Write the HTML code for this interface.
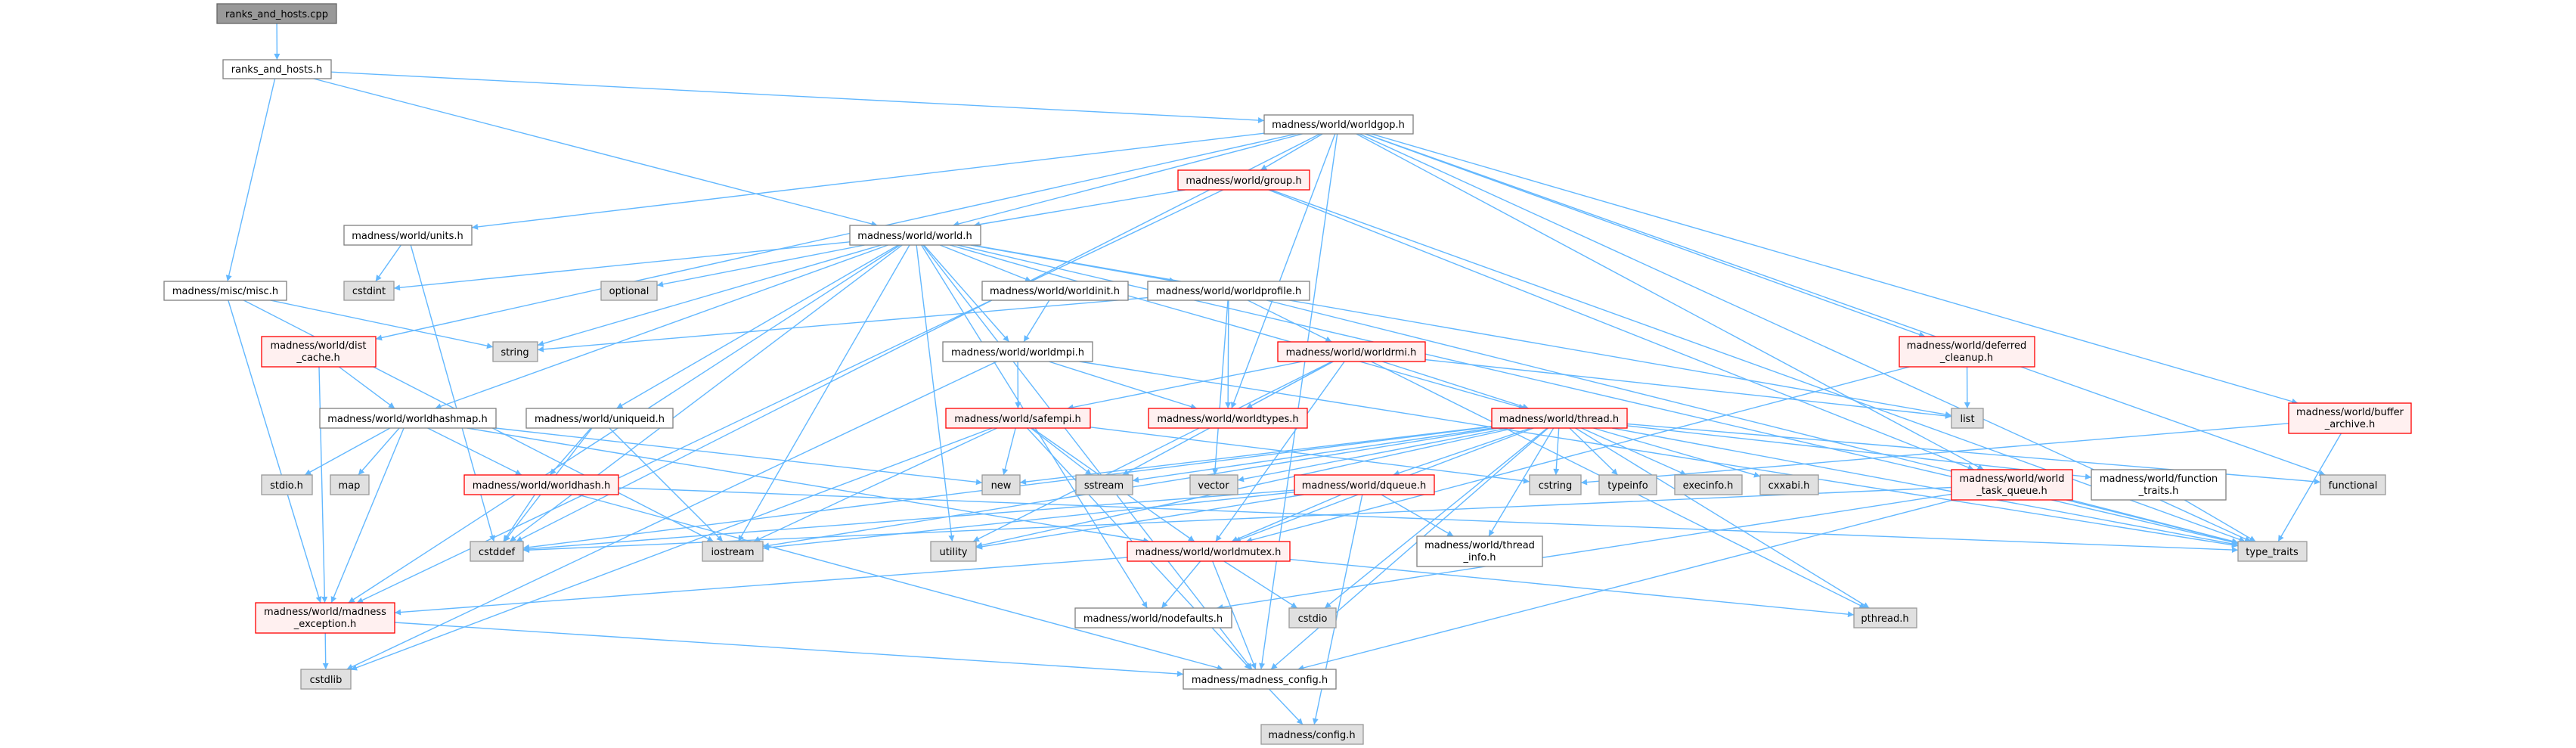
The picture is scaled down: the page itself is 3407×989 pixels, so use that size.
<!DOCTYPE html>
<html><head><meta charset="utf-8">
<style>
html,body{margin:0;padding:0;background:#fff;}
svg{display:block;}
text{font-family:"DejaVu Sans","Liberation Sans",sans-serif;font-size:13px;fill:#000;}
</style></head>
<body>
<svg id="g" xmlns="http://www.w3.org/2000/svg" width="3407" height="989" viewBox="0 0 3407 989">
<defs>
<marker id="ah" viewBox="0 0 10 10" refX="10" refY="5" markerWidth="10" markerHeight="8" markerUnits="userSpaceOnUse" orient="auto">
<path d="M0,0 L10,5 L0,10 z" fill="#63b8ff"/>
</marker>
</defs>
<g id="edges" fill="none" stroke="#63b8ff" stroke-width="1.4"></g>
<g id="nodes">
<rect x="287" y="5" width="158" height="26" fill="#999999" stroke="#666666" stroke-width="1.3"/><text x="366" y="23" text-anchor="middle">ranks_and_hosts.cpp</text>
<rect x="295" y="79" width="143" height="25" fill="#fff" stroke="#808080" stroke-width="1.3"/><text x="366" y="96" text-anchor="middle">ranks_and_hosts.h</text>
<rect x="1672" y="152" width="197" height="25" fill="#fff" stroke="#808080" stroke-width="1.3"/><text x="1770" y="169" text-anchor="middle">madness/world/worldgop.h</text>
<rect x="1558" y="225" width="174" height="26" fill="#fff0f0" stroke="#ff0000" stroke-width="1.3"/><text x="1645" y="243" text-anchor="middle">madness/world/group.h</text>
<rect x="1124" y="298" width="173" height="26" fill="#fff" stroke="#808080" stroke-width="1.3"/><text x="1210" y="316" text-anchor="middle">madness/world/world.h</text>
<rect x="455" y="298" width="169" height="26" fill="#fff" stroke="#808080" stroke-width="1.3"/><text x="539" y="316" text-anchor="middle">madness/world/units.h</text>
<rect x="217" y="372" width="162" height="25" fill="#fff" stroke="#808080" stroke-width="1.3"/><text x="298" y="389" text-anchor="middle">madness/misc/misc.h</text>
<rect x="455" y="372" width="66" height="25" fill="#e0e0e0" stroke="#999" stroke-width="1.3"/><text x="488" y="389" text-anchor="middle">cstdint</text>
<rect x="795" y="372" width="74" height="25" fill="#e0e0e0" stroke="#999" stroke-width="1.3"/><text x="832" y="389" text-anchor="middle">optional</text>
<rect x="1299" y="372" width="193" height="25" fill="#fff" stroke="#808080" stroke-width="1.3"/><text x="1395" y="389" text-anchor="middle">madness/world/worldinit.h</text>
<rect x="1518" y="372" width="214" height="25" fill="#fff" stroke="#808080" stroke-width="1.3"/><text x="1625" y="389" text-anchor="middle">madness/world/worldprofile.h</text>
<rect x="346" y="445" width="151" height="40" fill="#fff0f0" stroke="#ff0000" stroke-width="1.3"/><text x="421" y="461" text-anchor="middle">madness/world/dist</text><text x="421" y="477" text-anchor="middle">_cache.h</text>
<rect x="652" y="452" width="59" height="26" fill="#e0e0e0" stroke="#999" stroke-width="1.3"/><text x="681" y="470" text-anchor="middle">string</text>
<rect x="1247" y="452" width="198" height="26" fill="#fff" stroke="#808080" stroke-width="1.3"/><text x="1346" y="470" text-anchor="middle">madness/world/worldmpi.h</text>
<rect x="1690" y="452" width="195" height="26" fill="#fff0f0" stroke="#ff0000" stroke-width="1.3"/><text x="1787" y="470" text-anchor="middle">madness/world/worldrmi.h</text>
<rect x="2512" y="445" width="179" height="40" fill="#fff0f0" stroke="#ff0000" stroke-width="1.3"/><text x="2601" y="461" text-anchor="middle">madness/world/deferred</text><text x="2601" y="477" text-anchor="middle">_cleanup.h</text>
<rect x="423" y="540" width="233" height="26" fill="#fff" stroke="#808080" stroke-width="1.3"/><text x="539" y="558" text-anchor="middle">madness/world/worldhashmap.h</text>
<rect x="696" y="540" width="194" height="26" fill="#fff" stroke="#808080" stroke-width="1.3"/><text x="793" y="558" text-anchor="middle">madness/world/uniqueid.h</text>
<rect x="1251" y="540" width="191" height="26" fill="#fff0f0" stroke="#ff0000" stroke-width="1.3"/><text x="1346" y="558" text-anchor="middle">madness/world/safempi.h</text>
<rect x="1519" y="540" width="210" height="26" fill="#fff0f0" stroke="#ff0000" stroke-width="1.3"/><text x="1624" y="558" text-anchor="middle">madness/world/worldtypes.h</text>
<rect x="1973" y="540" width="179" height="26" fill="#fff0f0" stroke="#ff0000" stroke-width="1.3"/><text x="2062" y="558" text-anchor="middle">madness/world/thread.h</text>
<rect x="2581" y="540" width="42" height="26" fill="#e0e0e0" stroke="#999" stroke-width="1.3"/><text x="2602" y="558" text-anchor="middle">list</text>
<rect x="3027" y="533" width="162" height="40" fill="#fff0f0" stroke="#ff0000" stroke-width="1.3"/><text x="3108" y="549" text-anchor="middle">madness/world/buffer</text><text x="3108" y="565" text-anchor="middle">_archive.h</text>
<rect x="346" y="628" width="67" height="26" fill="#e0e0e0" stroke="#999" stroke-width="1.3"/><text x="379" y="646" text-anchor="middle">stdio.h</text>
<rect x="437" y="628" width="51" height="26" fill="#e0e0e0" stroke="#999" stroke-width="1.3"/><text x="462" y="646" text-anchor="middle">map</text>
<rect x="614" y="628" width="204" height="26" fill="#fff0f0" stroke="#ff0000" stroke-width="1.3"/><text x="716" y="646" text-anchor="middle">madness/world/worldhash.h</text>
<rect x="1299" y="628" width="50" height="26" fill="#e0e0e0" stroke="#999" stroke-width="1.3"/><text x="1324" y="646" text-anchor="middle">new</text>
<rect x="1423" y="628" width="75" height="26" fill="#e0e0e0" stroke="#999" stroke-width="1.3"/><text x="1460" y="646" text-anchor="middle">sstream</text>
<rect x="1574" y="628" width="63" height="26" fill="#e0e0e0" stroke="#999" stroke-width="1.3"/><text x="1605" y="646" text-anchor="middle">vector</text>
<rect x="1712" y="628" width="185" height="26" fill="#fff0f0" stroke="#ff0000" stroke-width="1.3"/><text x="1804" y="646" text-anchor="middle">madness/world/dqueue.h</text>
<rect x="2023" y="628" width="68" height="26" fill="#e0e0e0" stroke="#999" stroke-width="1.3"/><text x="2057" y="646" text-anchor="middle">cstring</text>
<rect x="2115" y="628" width="76" height="26" fill="#e0e0e0" stroke="#999" stroke-width="1.3"/><text x="2153" y="646" text-anchor="middle">typeinfo</text>
<rect x="2215" y="628" width="89" height="26" fill="#e0e0e0" stroke="#999" stroke-width="1.3"/><text x="2259" y="646" text-anchor="middle">execinfo.h</text>
<rect x="2328" y="628" width="77" height="26" fill="#e0e0e0" stroke="#999" stroke-width="1.3"/><text x="2366" y="646" text-anchor="middle">cxxabi.h</text>
<rect x="2581" y="621" width="160" height="40" fill="#fff0f0" stroke="#ff0000" stroke-width="1.3"/><text x="2661" y="637" text-anchor="middle">madness/world/world</text><text x="2661" y="653" text-anchor="middle">_task_queue.h</text>
<rect x="2766" y="621" width="178" height="40" fill="#fff" stroke="#808080" stroke-width="1.3"/><text x="2855" y="637" text-anchor="middle">madness/world/function</text><text x="2855" y="653" text-anchor="middle">_traits.h</text>
<rect x="3069" y="628" width="86" height="26" fill="#e0e0e0" stroke="#999" stroke-width="1.3"/><text x="3112" y="646" text-anchor="middle">functional</text>
<rect x="622" y="716" width="70" height="26" fill="#e0e0e0" stroke="#999" stroke-width="1.3"/><text x="657" y="734" text-anchor="middle">cstddef</text>
<rect x="929" y="716" width="80" height="26" fill="#e0e0e0" stroke="#999" stroke-width="1.3"/><text x="969" y="734" text-anchor="middle">iostream</text>
<rect x="1231" y="716" width="60" height="26" fill="#e0e0e0" stroke="#999" stroke-width="1.3"/><text x="1261" y="734" text-anchor="middle">utility</text>
<rect x="1491" y="716" width="215" height="26" fill="#fff0f0" stroke="#ff0000" stroke-width="1.3"/><text x="1598" y="734" text-anchor="middle">madness/world/worldmutex.h</text>
<rect x="1874" y="709" width="166" height="40" fill="#fff" stroke="#808080" stroke-width="1.3"/><text x="1957" y="725" text-anchor="middle">madness/world/thread</text><text x="1957" y="741" text-anchor="middle">_info.h</text>
<rect x="2960" y="716" width="91" height="26" fill="#e0e0e0" stroke="#999" stroke-width="1.3"/><text x="3005" y="734" text-anchor="middle">type_traits</text>
<rect x="338" y="797" width="184" height="40" fill="#fff0f0" stroke="#ff0000" stroke-width="1.3"/><text x="430" y="813" text-anchor="middle">madness/world/madness</text><text x="430" y="829" text-anchor="middle">_exception.h</text>
<rect x="1422" y="804" width="207" height="26" fill="#fff" stroke="#808080" stroke-width="1.3"/><text x="1525" y="822" text-anchor="middle">madness/world/nodefaults.h</text>
<rect x="1705" y="804" width="62" height="26" fill="#e0e0e0" stroke="#999" stroke-width="1.3"/><text x="1736" y="822" text-anchor="middle">cstdio</text>
<rect x="2452" y="804" width="83" height="26" fill="#e0e0e0" stroke="#999" stroke-width="1.3"/><text x="2493" y="822" text-anchor="middle">pthread.h</text>
<rect x="398" y="885" width="66" height="26" fill="#e0e0e0" stroke="#999" stroke-width="1.3"/><text x="431" y="903" text-anchor="middle">cstdlib</text>
<rect x="1565" y="885" width="202" height="26" fill="#fff" stroke="#808080" stroke-width="1.3"/><text x="1666" y="903" text-anchor="middle">madness/madness_config.h</text>
<rect x="1668" y="958" width="135" height="26" fill="#e0e0e0" stroke="#999" stroke-width="1.3"/><text x="1735" y="976" text-anchor="middle">madness/config.h</text>
</g>
</svg>
<script>
var N={
cpp:[287,5,158,26],rah:[295,79,143,25],gop:[1672,152,197,25],group:[1558,225,174,26],world:[1124,298,173,26],
units:[455,298,169,26],misc:[217,372,162,25],cstdint:[455,372,66,25],optional:[795,372,74,25],init:[1299,372,193,25],
profile:[1518,372,214,25],dist:[346,445,151,40],string:[652,452,59,26],mpi:[1247,452,198,26],rmi:[1690,452,195,26],
deferred:[2512,445,179,40],hashmap:[423,540,233,26],uniq:[696,540,194,26],safempi:[1251,540,191,26],types:[1519,540,210,26],
thread:[1973,540,179,26],list:[2581,540,42,26],buffer:[3027,533,162,40],stdio:[346,628,67,26],map:[437,628,51,26],
hash:[614,628,204,26],"new":[1299,628,50,26],sstream:[1423,628,75,26],vector:[1574,628,63,26],dqueue:[1712,628,185,26],
cstring:[2023,628,68,26],typeinfo:[2115,628,76,26],execinfo:[2215,628,89,26],cxxabi:[2328,628,77,26],wtq:[2581,621,160,40],
ftraits:[2766,621,178,40],functional:[3069,628,86,26],cstddef:[622,716,70,26],iostream:[929,716,80,26],utility:[1231,716,60,26],
mutex:[1491,716,215,26],tinfo:[1874,709,166,40],tt:[2960,716,91,26],exc:[338,797,184,40],nodef:[1422,804,207,26],
cstdio:[1705,804,62,26],pthread:[2452,804,83,26],cstdlib:[398,885,66,26],mconf:[1565,885,202,26],conf:[1668,958,135,26]};
var E=[["cpp","rah"],["rah","misc"],["rah","world"],["rah","gop"],
["gop","units"],["gop","dist"],["gop","world"],["gop","group"],["gop","types"],["gop","deferred"],["gop","wtq"],["gop","buffer"],["gop","functional"],["gop","tt"],["gop","mconf"],["gop","cstddef"],
["group","world"],["group","exc"],["group","wtq"],["group","tt"],
["units","cstdint"],["units","cstddef"],
["misc","string"],["misc","exc"],["misc","iostream"],
["dist","hashmap"],["dist","exc"],
["world","cstdint"],["world","optional"],["world","string"],["world","init"],["world","profile"],["world","mpi"],["world","hashmap"],["world","uniq"],["world","iostream"],["world","cstddef"],["world","exc"],["world","utility"],["world","nodef"],["world","thread"],["world","list"],["world","mconf"],["world","tt"],
["init","mpi"],
["profile","types"],["profile","rmi"],["profile","string"],["profile","vector"],["profile","tt"],
["mpi","safempi"],["mpi","types"],["mpi","cstdlib"],["mpi","tt"],
["rmi","safempi"],["rmi","types"],["rmi","thread"],["rmi","list"],["rmi","sstream"],["rmi","utility"],["rmi","mutex"],["rmi","pthread"],
["safempi","new"],["safempi","sstream"],["safempi","cstring"],["safempi","mutex"],["safempi","iostream"],["safempi","cstdlib"],["safempi","mconf"],
["thread","dqueue"],["thread","ftraits"],["thread","tt"],["thread","cstring"],["thread","typeinfo"],["thread","execinfo"],["thread","cxxabi"],["thread","tinfo"],["thread","pthread"],["thread","cstdio"],["thread","new"],["thread","sstream"],["thread","vector"],["thread","mutex"],["thread","cstddef"],["thread","functional"],["thread","iostream"],["thread","utility"],["thread","mconf"],
["dqueue","mutex"],["dqueue","tinfo"],["dqueue","cstddef"],["dqueue","utility"],["dqueue","iostream"],["dqueue","conf"],
["mutex","nodef"],["mutex","cstdio"],["mutex","mconf"],["mutex","pthread"],["mutex","exc"],
["hashmap","stdio"],["hashmap","map"],["hashmap","hash"],["hashmap","exc"],["hashmap","mutex"],["hashmap","new"],
["uniq","hash"],["uniq","iostream"],["uniq","cstddef"],
["hash","cstddef"],["hash","mconf"],["hash","tt"],
["wtq","tt"],["wtq","nodef"],["wtq","mconf"],["wtq","cstddef"],
["ftraits","tt"],["buffer","tt"],["buffer","cstring"],
["deferred","list"],["deferred","mutex"],
["mconf","conf"],["exc","cstdlib"],["exc","mconf"]];
function clip(r,px,py,qx,qy){
  var cx=r[0]+r[2]/2,cy=r[1]+r[3]/2,dx=qx-px,dy=qy-py;
  var hw=r[2]/2,hh=r[3]/2,t=1e9;
  if(dx!==0){t=Math.min(t,hw/Math.abs(dx));}
  if(dy!==0){t=Math.min(t,hh/Math.abs(dy));}
  return [cx+dx*t,cy+dy*t];
}
var g=document.getElementById("edges"),ns="http://www.w3.org/2000/svg",s="";
E.forEach(function(e){
  var a=N[e[0]],b=N[e[1]];
  var ax=a[0]+a[2]/2,ay=a[1]+a[3]/2,bx=b[0]+b[2]/2,by=b[1]+b[3]/2;
  var p=clip(a,ax,ay,bx,by),q=clip(b,bx,by,ax,ay);
  s+='<path d="M'+p[0].toFixed(1)+','+p[1].toFixed(1)+' L'+q[0].toFixed(1)+','+q[1].toFixed(1)+'" marker-end="url(#ah)"/>';
});
g.innerHTML=s;
</script>
</body></html>
